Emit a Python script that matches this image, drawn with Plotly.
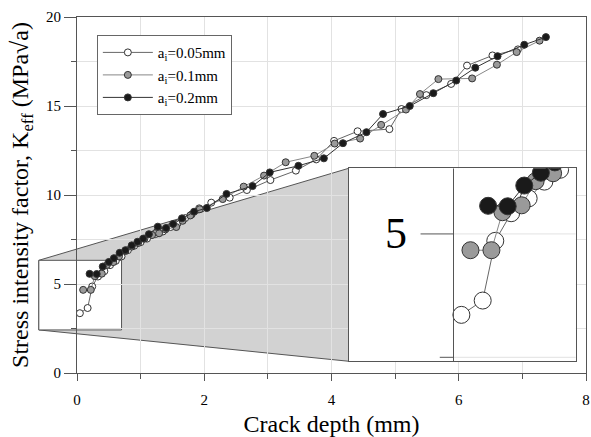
import plotly.graph_objects as go

# ---------------- data ----------------
x_005 = [0.045, 0.167, 0.239, 0.33, 0.43, 0.52, 0.61, 0.70, 0.80, 0.90, 1.00, 1.10, 1.23, 1.35,
         1.47, 1.58, 1.70, 1.80, 1.92, 2.11, 2.40, 2.67, 3.04, 3.44, 3.76, 4.04, 4.41, 4.91,
         5.10, 5.49, 5.88, 6.13, 6.53, 6.93]
y_005 = [3.36, 3.65, 4.86, 5.42, 5.72, 6.06, 6.30, 6.55, 6.90, 7.15, 7.35, 7.55, 7.80, 7.95,
         8.20, 8.40, 8.70, 8.90, 9.25, 9.57, 9.85, 10.28, 10.84, 11.37, 12.00, 13.04, 13.58, 13.70,
         14.83, 15.61, 16.24, 17.27, 17.84, 18.18]

x_01 = [0.097, 0.217, 0.28, 0.39, 0.47, 0.57, 0.66, 0.76, 0.86, 0.96, 1.06, 1.18, 1.29, 1.39,
        1.56, 1.66, 1.78, 1.93, 2.29, 2.62, 2.94, 3.28, 3.73, 4.05, 4.45, 4.78, 5.17, 5.39,
        5.68, 6.21, 6.60, 6.91, 7.27]
y_01 = [4.67, 4.67, 5.44, 5.58, 6.07, 6.23, 6.55, 6.85, 7.10, 7.30, 7.55, 7.75, 7.85, 8.07,
        8.20, 8.55, 8.85, 9.20, 9.77, 10.47, 11.09, 11.84, 12.20, 12.89, 13.17, 13.94, 14.80, 15.67,
        16.51, 16.55, 17.32, 18.03, 18.67]

x_02 = [0.198, 0.31, 0.405, 0.50, 0.58, 0.67, 0.76, 0.86, 0.95, 1.04, 1.13, 1.27, 1.40, 1.51,
        1.65, 1.84, 2.04, 2.35, 2.76, 3.03, 3.48, 3.88, 4.18, 4.55, 4.81, 5.23, 5.60, 5.96,
        6.26, 6.61, 7.03, 7.37]
y_02 = [5.57, 5.56, 5.98, 6.24, 6.45, 6.75, 6.90, 7.17, 7.37, 7.55, 7.80, 8.22, 8.15, 8.37,
        8.69, 9.06, 9.27, 10.06, 10.50, 11.27, 11.64, 12.06, 12.91, 13.53, 14.55, 15.00, 15.72, 16.43,
        17.15, 17.80, 18.44, 18.87]

series_names = ["a<sub>i</sub>=0.05mm", "a<sub>i</sub>=0.1mm", "a<sub>i</sub>=0.2mm"]
x_tickvals = [0, 2, 4, 6, 8]
y_tickvals = [0, 5, 10, 15, 20]

# ---------------- layout constants ----------------
FONT = "Liberation Serif, Times New Roman, serif"
X_RANGE = (0, 8)
Y_RANGE = (0, 20)
ZOOM_X = (-0.60, 0.70)      # magnified region (main-axis data units)
ZOOM_Y = (2.42, 6.33)
INSET_X = (4.27, 7.84)      # where the magnified picture is placed (main-axis data units)
INSET_Y = (0.66, 11.50)
AXIS_COL = "#555555"
GRID_COL = "#e2e2e2"

styles = [
    dict(fill="white", line="#666666"),
    dict(fill="#9a9a9a", line="#888888"),
    dict(fill="#1a1a1a", line="#333333"),
]


def px(x):
    return (x - X_RANGE[0]) / (X_RANGE[1] - X_RANGE[0])


def py(y):
    return (y - Y_RANGE[0]) / (Y_RANGE[1] - Y_RANGE[0])


fig = go.Figure()
all_x = [x_005, x_01, x_02]
all_y = [y_005, y_01, y_02]

for xs, ys, name, st in zip(all_x, all_y, series_names, styles):
    fig.add_trace(go.Scatter(
        x=xs, y=ys, mode="lines+markers", name=name,
        line=dict(color=st["line"], width=1),
        marker=dict(size=7, color=st["fill"], line=dict(color="#333333", width=1)),
    ))

for xs, ys, name, st in zip(all_x, all_y, series_names, styles):
    fig.add_trace(go.Scatter(
        x=xs, y=ys, mode="lines+markers", name=name, showlegend=False,
        xaxis="x2", yaxis="y2",
        line=dict(color=st["line"], width=1),
        marker=dict(size=17, color=st["fill"], line=dict(color="#333333", width=1)),
    ))

shapes = []
# gray connecting band (paper coords so it may leave the plot area)
shapes.append(dict(
    type="path", xref="paper", yref="paper", layer="below",
    path=(f"M {px(ZOOM_X[0])},{py(ZOOM_Y[1])} L {px(INSET_X[0])},{py(INSET_Y[1])} "
          f"L {px(INSET_X[0])},{py(INSET_Y[0])} L {px(ZOOM_X[0])},{py(ZOOM_Y[0])} Z"),
    fillcolor="#d2d2d2", line=dict(color=AXIS_COL, width=1),
))
# small box marking the magnified region
shapes.append(dict(
    type="rect", xref="paper", yref="paper", layer="below",
    x0=px(ZOOM_X[0]), x1=px(ZOOM_X[1]), y0=py(ZOOM_Y[0]), y1=py(ZOOM_Y[1]),
    fillcolor="white", line=dict(color=AXIS_COL, width=1),
))
# inset: gridlines, y-axis line and ticks (magnified copies)
for gy in (2.5, 5):
    shapes.append(dict(type="line", xref="x2", yref="y2", layer="below",
                       x0=0, x1=ZOOM_X[1], y0=gy, y1=gy,
                       line=dict(color=GRID_COL, width=1)))
shapes.append(dict(type="line", xref="x2", yref="y2", x0=0, x1=0,
                   y0=ZOOM_Y[0], y1=ZOOM_Y[1], line=dict(color=AXIS_COL, width=1)))
ppu = 509 / (X_RANGE[1] - X_RANGE[0])
shapes.append(dict(type="line", xref="x2", yref="y2", x0=-12 / ppu, x1=0,
                   y0=5, y1=5, line=dict(color=AXIS_COL, width=1)))
shapes.append(dict(type="line", xref="x2", yref="y2", x0=-5 / ppu, x1=0,
                   y0=2.5, y1=2.5, line=dict(color=AXIS_COL, width=1)))

annotations = [dict(
    x=-0.255, y=5, xref="x2", yref="y2", text="5", showarrow=False,
    xanchor="right", yanchor="middle", font=dict(family=FONT, size=44, color="black"),
)]

fig.update_layout(
    width=591, height=437,
    margin=dict(l=77, r=5, t=17, b=64, autoexpand=False),
    paper_bgcolor="white", plot_bgcolor="white",
    font=dict(family=FONT, color="black", size=14),
    shapes=shapes, annotations=annotations,
    legend=dict(
        x=0.039, y=0.949, xanchor="left", yanchor="top",
        bgcolor="white", bordercolor="#666666", borderwidth=1,
        font=dict(family=FONT, size=15, color="black"),
        tracegroupgap=0, itemwidth=50,
    ),
    xaxis=dict(
        range=list(X_RANGE), tickvals=x_tickvals, showline=True, mirror=True,
        linecolor=AXIS_COL, linewidth=1, ticks="outside", ticklen=7, tickcolor=AXIS_COL,
        showgrid=True, gridcolor=GRID_COL, zeroline=False, ticklabelstandoff=6,
        minor=dict(dtick=1, ticks="outside", ticklen=5, tickcolor=AXIS_COL,
                   showgrid=True, gridcolor=GRID_COL),
        tickfont=dict(family=FONT, size=15),
        title=dict(text="Crack depth (mm)", font=dict(family=FONT, size=24), standoff=12),
    ),
    yaxis=dict(
        range=list(Y_RANGE), tickvals=y_tickvals, showline=True, mirror=True,
        linecolor=AXIS_COL, linewidth=1, ticks="outside", ticklen=12, tickcolor=AXIS_COL,
        showgrid=True, gridcolor=GRID_COL, zeroline=False,
        minor=dict(dtick=2.5, ticks="outside", ticklen=5, tickcolor=AXIS_COL,
                   showgrid=True, gridcolor=GRID_COL),
        tickfont=dict(family=FONT, size=15),
        title=dict(text="Stress intensity factor, K<sub>eff</sub> (MPa√a)",
                   font=dict(family=FONT, size=24), standoff=10),
    ),
    xaxis2=dict(
        domain=[px(INSET_X[0]), px(INSET_X[1])], anchor="y2",
        range=list(ZOOM_X), showline=True, mirror=True, linecolor=AXIS_COL, linewidth=1,
        showgrid=False, zeroline=False, showticklabels=False, ticks="",
    ),
    yaxis2=dict(
        domain=[py(INSET_Y[0]), py(INSET_Y[1])], anchor="x2",
        range=list(ZOOM_Y), showline=True, mirror=True, linecolor=AXIS_COL, linewidth=1,
        showgrid=False, zeroline=False, showticklabels=False, ticks="",
    ),
)

fig.write_html("out.html")
